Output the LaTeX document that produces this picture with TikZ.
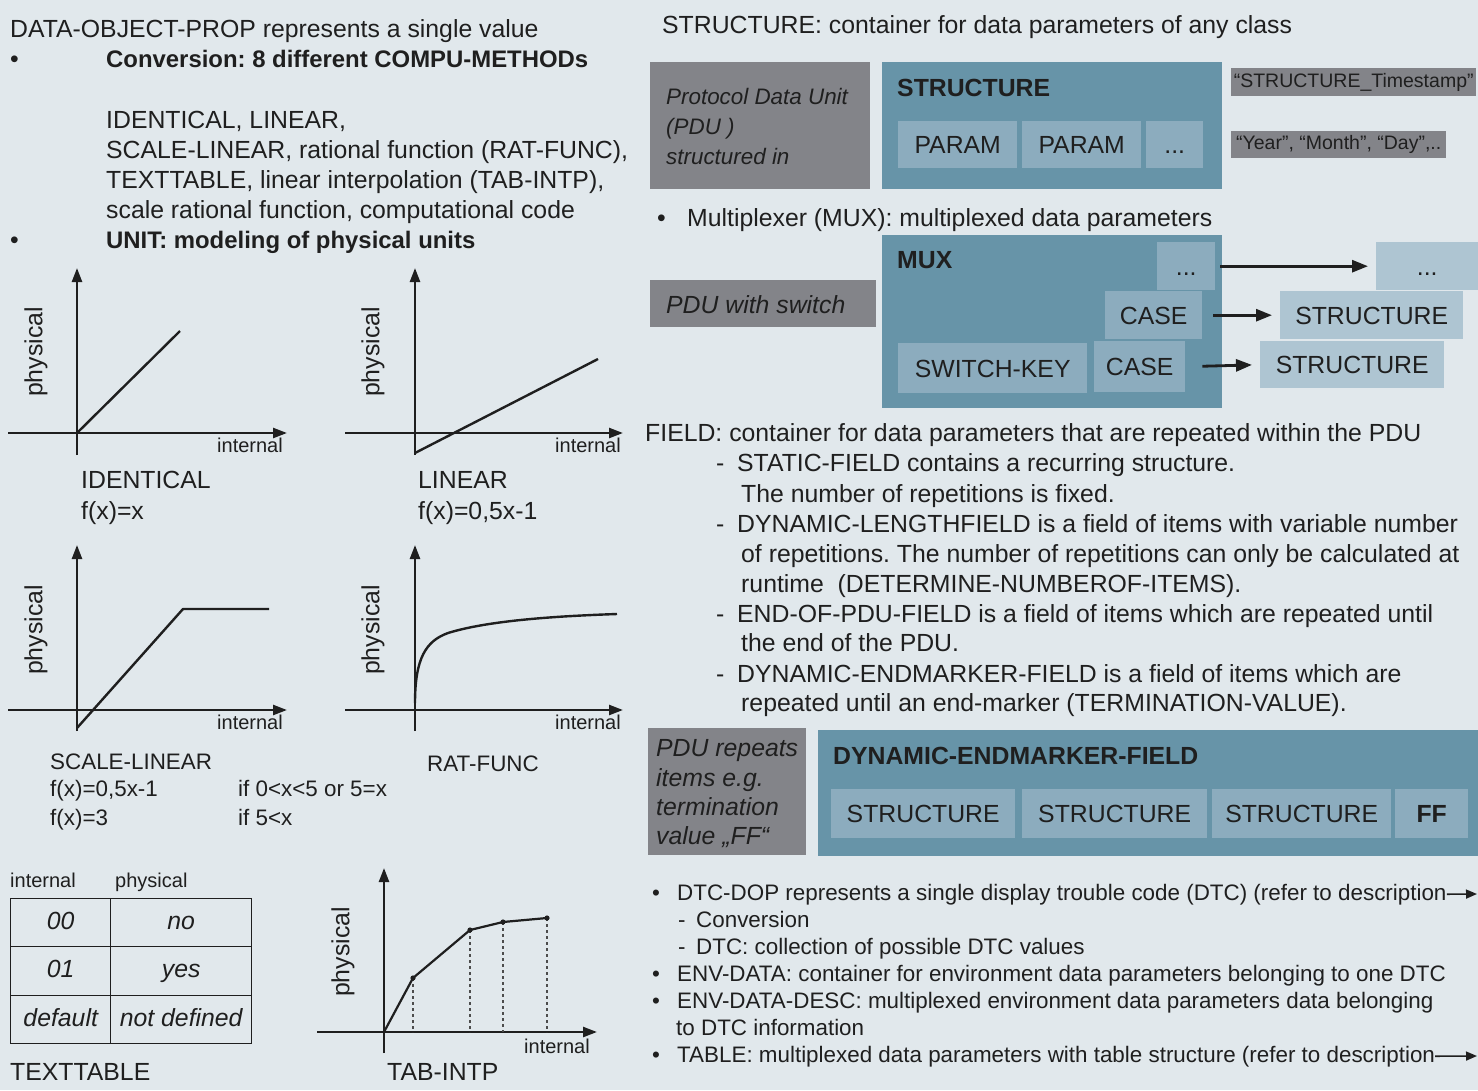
\documentclass[tikz,border=0pt]{standalone}
\usepackage{fontspec}
\setmainfont{Liberation Sans}
\usetikzlibrary{arrows.meta}

\definecolor{bg}{HTML}{E1E8EC}
\definecolor{ink}{HTML}{1F1F1F}
\definecolor{pdugray}{HTML}{838489}
\definecolor{boxteal}{HTML}{6794A8}
\definecolor{cellblue}{HTML}{8CACBE}
\definecolor{paleblue}{HTML}{AEC5D2}

\tikzset{
  txt/.style={anchor=base west, inner sep=0pt, text=ink, font=\fontsize{24.8}{30}\selectfont},
  txts/.style={txt, font=\fontsize{22.4}{27}\selectfont},
  txtxs/.style={txt, font=\fontsize{20}{24}\selectfont},
  txtb/.style={txt, font=\fontsize{24.8}{30}\selectfont\bfseries},
  txtbl/.style={txt, font=\fontsize{23.9}{30}\selectfont\bfseries},
  txti/.style={txt, font=\fontsize{24.8}{30}\selectfont\itshape},
  txtis/.style={txt, font=\fontsize{22.4}{27}\selectfont\itshape},
  pdubox/.style={rectangle, fill=pdugray, inner sep=0pt, anchor=north west},
  container/.style={rectangle, fill=boxteal, inner sep=0pt, anchor=north west},
  cell/.style={rectangle, fill=cellblue, inner sep=0pt, anchor=north west, text=ink,
    text height=18pt, text depth=0pt, font=\fontsize{24.8}{30}\selectfont},
  outcell/.style={cell, fill=paleblue},
  tag/.style={rectangle, fill=pdugray, inner sep=0pt, anchor=north west, text=ink,
    text height=14pt, text depth=4pt, font=\fontsize{19.5}{24}\selectfont},
  tcell/.style={rectangle, draw=ink, line width=1.4pt, inner sep=0pt, anchor=north west,
    text=ink, text height=18pt, text depth=5pt, font=\fontsize{24.8}{30}\selectfont\itshape},
  axis/.style={line width=2.4pt, draw=ink, -{Triangle[length=14pt,width=10pt]}},
  curve/.style={line width=2.4pt, draw=ink, line join=round},
  conn/.style={line width=2.8pt, draw=ink, -{Triangle[length=16pt,width=12pt]}},
  refarrow/.style={line width=1.6pt, draw=ink, -{Triangle[length=11pt,width=9pt]}},
  guide/.style={line width=1.2pt, draw=ink!80, dash pattern=on 3pt off 3pt},
  vlabel/.style={txt, rotate=90, anchor=center},
}

\begin{document}
\frenchspacing
\begin{tikzpicture}[x=1pt,y=-1pt]
\useasboundingbox (0,0) rectangle (1478,1090);
\fill[bg] (0,0) rectangle (1478,1090);

% ---------- data object properties ----------
\node[txt] (dop) at (10,37) {DATA-OBJECT-PROP represents a single value};
\node[txt] (bul1) at (10,67) {•};
\node[txtbl] (conv) at (106,67) {Conversion: 8 different COMPU-METHODs};
\node[txt] (meth1) at (106,128) {IDENTICAL, LINEAR,};
\node[txt] (meth2) at (106,158) {SCALE-LINEAR, rational function (RAT-FUNC),};
\node[txt] (meth3) at (106,188) {TEXTTABLE, linear interpolation (TAB-INTP),};
\node[txt] (meth4) at (106,218) {scale rational function, computational code};
\node[txt] (bul2) at (10,248) {•};
\node[txtbl] (unit) at (106,248) {UNIT: modeling of physical units};

% IDENTICAL
\draw[axis] (8,433) -- (287,433);
\draw[axis] (77,455) -- (77,268);
\draw[curve] (77,433) -- (180,331);
\node[vlabel] (phys1) at (36,352) {physical};
\node[txtxs, anchor=base east] (int1) at (283,452) {internal};
\node[txt] (idn) at (81,488) {IDENTICAL};
\node[txt] (idnf) at (81,519) {f(x)=x};

% LINEAR
\draw[axis] (345,433) -- (623,433);
\draw[axis] (415,455) -- (415,268);
\draw[curve] (415,453) -- (598,359);
\node[vlabel] (phys2) at (373,352) {physical};
\node[txtxs, anchor=base east] (int2) at (621,452) {internal};
\node[txt] (lin) at (418,488) {LINEAR};
\node[txt] (linf) at (418,519) {f(x)=0,5x-1};

% SCALE-LINEAR
\draw[axis] (8,710) -- (287,710);
\draw[axis] (77,731) -- (77,545);
\draw[curve] (77,728) -- (183,609) -- (269,609);
\node[vlabel] (phys3) at (36,630) {physical};
\node[txtxs, anchor=base east] (int3) at (283,729) {internal};
\node[txts] (sclin) at (50,769) {SCALE-LINEAR};
\node[txts] (sclf1) at (50,796) {f(x)=0,5x-1};
\node[txts] (sclf2) at (50,825) {f(x)=3};
\node[txts] (sclc1) at (238,796) {if 0<x<5 or 5=x};
\node[txts] (sclc2) at (238,825) {if 5<x};

% RAT-FUNC
\draw[axis] (345,710) -- (623,710);
\draw[axis] (415,731) -- (415,545);
\draw[curve] (415,703) .. controls (415,658) and (426,641) .. (448,633)
  .. controls (490,620) and (560,616) .. (617,614);
\node[vlabel] (phys4) at (373,630) {physical};
\node[txtxs, anchor=base east] (int4) at (621,729) {internal};
\node[txts] (rat) at (427,771) {RAT-FUNC};

% TEXTTABLE
\node[txtxs] (thint) at (10,887) {internal};
\node[txtxs] (thphys) at (115,887) {physical};
\node[tcell, minimum width=100pt, minimum height=48pt] (t00) at (10,898) {00};
\node[tcell, minimum width=141pt, minimum height=48pt] (tno) at (110,898) {no};
\node[tcell, minimum width=100pt, minimum height=49pt] (t01) at (10,946) {01};
\node[tcell, minimum width=141pt, minimum height=49pt] (tyes) at (110,946) {yes};
\node[tcell, minimum width=100pt, minimum height=48pt] (tdef) at (10,995) {default};
\node[tcell, minimum width=141pt, minimum height=48pt] (tnd) at (110,995) {not defined};
\node[txt] (ttab) at (10,1080) {TEXTTABLE};

% TAB-INTP
\draw[axis] (317,1032) -- (597,1032);
\draw[axis] (384,1053) -- (384,868);
\foreach \px/\py in {413/978, 470/930, 503/922, 547/918}
  \draw[guide] (\px,\py) -- (\px,1032);
\draw[curve, line width=2.2pt] (384,1032) -- (413,978) -- (470,930) -- (503,922) -- (547,918);
\foreach \px/\py in {413/978, 470/930, 503/922, 547/918}
  \fill[ink] (\px,\py) circle (2.6);
\node[vlabel] (phys5) at (343,952) {physical};
\node[txtxs, anchor=base east] (int5) at (590,1053) {internal};
\node[txt] (tabintp) at (387,1080) {TAB-INTP};

% ---------- STRUCTURE ----------
\node[txt] (structhead) at (662,33) {STRUCTURE: container for data parameters of any class};
\node[pdubox, minimum width=220pt, minimum height=127pt] (pdu1) at (650,62) {};
\node[txtis] (pdu1a) at (666,104) {Protocol Data Unit};
\node[txtis] (pdu1b) at (666,134) {(PDU )};
\node[txtis] (pdu1c) at (666,164) {structured in};
\node[container, minimum width=340pt, minimum height=127pt] (struct) at (882,62) {};
\node[txtb] (structt) at (897,96) {STRUCTURE};
\node[cell, minimum width=119pt, minimum height=47pt] (param1) at (898,121) {PARAM};
\node[cell, minimum width=119pt, minimum height=47pt] (param2) at (1022,121) {PARAM};
\node[cell, minimum width=57pt, minimum height=47pt] (param3) at (1146,121) {...};
\node[tag, minimum width=245pt, minimum height=28pt] (tag1) at (1231,68) {“STRUCTURE\_Timestamp”};
\node[tag, minimum width=215pt, minimum height=27pt] (tag2) at (1231,131) {“Year”, “Month”, “Day”,..};

% ---------- MUX ----------
\node[txt] (bul3) at (657,226) {•};
\node[txt] (muxhead) at (687,226) {Multiplexer (MUX): multiplexed data parameters};
\node[pdubox, minimum width=226pt, minimum height=47pt] (pdu2) at (650,280) {};
\node[txti] (pdu2t) at (666,313) {PDU with switch};
\node[container, minimum width=340pt, minimum height=173pt] (mux) at (882,235) {};
\node[txtb] (muxt) at (897,268) {MUX};
\node[cell, minimum width=58pt, minimum height=48pt] (mdots) at (1157,242) {...};
\node[cell, minimum width=97pt, minimum height=48pt] (case1) at (1105,291) {CASE};
\node[cell, minimum width=189pt, minimum height=50pt] (skey) at (898,343) {SWITCH-KEY};
\node[cell, minimum width=91pt, minimum height=51pt] (case2) at (1094,341) {CASE};
\node[outcell, minimum width=102pt, minimum height=48pt] (odots) at (1376,242) {...};
\node[outcell, minimum width=183pt, minimum height=48pt] (ostr1) at (1280,291) {STRUCTURE};
\node[outcell, minimum width=184pt, minimum height=47pt] (ostr2) at (1260,341) {STRUCTURE};
\draw[conn, shorten <=5pt, shorten >=8pt] (mdots.east) -- (odots.west);
\draw[conn, shorten <=11pt, shorten >=8pt] (case1.east) -- (ostr1.west);
\draw[conn, shorten <=17pt, shorten >=8pt] (case2.east) -- (ostr2.west);

% ---------- FIELD ----------
\node[txt] (fieldhead) at (645,441) {FIELD: container for data parameters that are repeated within the PDU};
\node[txt] (d1) at (716,471) {-};
\node[txt] (f1a) at (737,471) {STATIC-FIELD contains a recurring structure.};
\node[txt] (f1b) at (741,502) {The number of repetitions is fixed.};
\node[txt] (d2) at (716,532) {-};
\node[txt] (f2a) at (737,532) {DYNAMIC-LENGTHFIELD is a field of items with variable number};
\node[txt] (f2b) at (741,562) {of repetitions. The number of repetitions can only be calculated at};
\node[txt] (f2c) at (741,592) {runtime\ \ (DETERMINE-NUMBEROF-ITEMS).};
\node[txt] (d3) at (716,622) {-};
\node[txt] (f3a) at (737,622) {END-OF-PDU-FIELD is a field of items which are repeated until};
\node[txt] (f3b) at (741,651) {the end of the PDU.};
\node[txt] (d4) at (716,682) {-};
\node[txt] (f4a) at (737,682) {DYNAMIC-ENDMARKER-FIELD is a field of items which are};
\node[txt] (f4b) at (741,711) {repeated until an end-marker (TERMINATION-VALUE).};

\node[pdubox, minimum width=158pt, minimum height=127pt] (pdu3) at (648,728) {};
\node[txti] (pdu3a) at (656,756) {PDU repeats};
\node[txti] (pdu3b) at (656,786) {items e.g.};
\node[txti] (pdu3c) at (656,815) {termination};
\node[txti] (pdu3d) at (656,844) {value „FF“};
\node[container, minimum width=660pt, minimum height=126pt] (dyn) at (818,730) {};
\node[txtb] (dynt) at (833,764) {DYNAMIC-ENDMARKER-FIELD};
\node[cell, minimum width=184pt, minimum height=49pt] (ds1) at (831,789) {STRUCTURE};
\node[cell, minimum width=185pt, minimum height=49pt] (ds2) at (1022,789) {STRUCTURE};
\node[cell, minimum width=179pt, minimum height=49pt] (ds3) at (1212,789) {STRUCTURE};
\node[cell, minimum width=73pt, minimum height=49pt, font=\fontsize{24.8}{30}\selectfont\bfseries] (dff) at (1395,789) {FF};

% ---------- DTC and further objects ----------
\node[txts] (bul4) at (652,900) {•};
\node[txts] (dtc) at (677,900) {DTC-DOP represents a single display trouble code (DTC) (refer to description};
\coordinate (dtcend) at (1477,894);
\draw[refarrow] (dtc.east) -- (dtcend);
\node[txts] (d5) at (678,927) {-};
\node[txts] (dtc1) at (696,927) {Conversion};
\node[txts] (d6) at (678,954) {-};
\node[txts] (dtc2) at (696,954) {DTC: collection of possible DTC values};
\node[txts] (bul5) at (652,981) {•};
\node[txts] (env) at (677,981) {ENV-DATA: container for environment data parameters belonging to one DTC};
\node[txts] (bul6) at (652,1008) {•};
\node[txts] (envd) at (677,1008) {ENV-DATA-DESC: multiplexed environment data parameters data belonging};
\node[txts] (envd2) at (676,1035) {to DTC information};
\node[txts] (bul7) at (652,1062) {•};
\node[txts] (tbl) at (677,1062) {TABLE: multiplexed data parameters with table structure (refer to description};
\coordinate (tblend) at (1477,1056);
\draw[refarrow] (tbl.east) -- (tblend);
\end{tikzpicture}
\end{document}
